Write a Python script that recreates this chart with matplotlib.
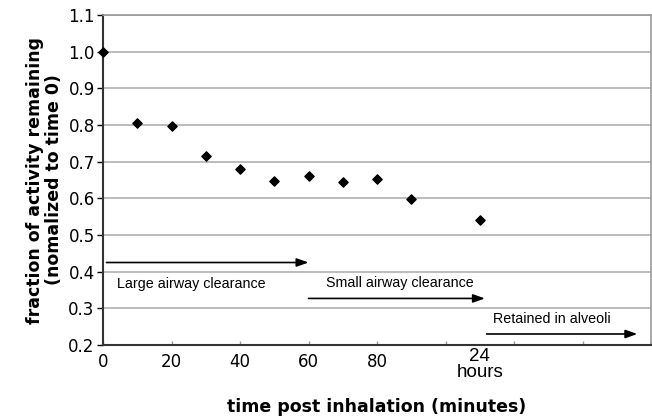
import matplotlib.pyplot as plt

# data
time_min = [0, 10, 20, 30, 40, 50, 60, 70, 80, 90, 110]
fraction = [1.00, 0.806, 0.797, 0.715, 0.681, 0.648, 0.661, 0.645, 0.654, 0.599, 0.541]

x_ticks = [0, 20, 40, 60, 80, 100, 120, 140, 160]
x_tick_labels = ["0", "20", "40", "60", "80", "", "", "", ""]
y_ticks = [0.2, 0.3, 0.4, 0.5, 0.6, 0.7, 0.8, 0.9, 1.0, 1.1]

phases = ["Large airway clearance", "Small airway clearance", "Retained in alveoli"]
phase_start = [1, 60, 112]
phase_end = [60, 111.5, 156]
phase_level = [0.425, 0.327, 0.23]
phase_text_x = [4, 65, 114]
phase_text_y = [0.366, 0.368, 0.271]

fig = plt.figure(figsize=(6.52, 4.17), dpi=100)
ax = fig.add_axes([103 / 652, 1 - 345 / 417, 548 / 652, 330 / 417])

ax.scatter(time_min, fraction, marker="D", s=22, color="black", zorder=3, clip_on=False)

ax.set_xlim(0, 160)
ax.set_ylim(0.2, 1.1)
ax.set_yticks(y_ticks)
ax.set_yticklabels([f"{v:.1f}" for v in y_ticks], fontsize=12)
ax.set_xticks(x_ticks)
ax.set_xticklabels(x_tick_labels, fontsize=12)
ax.text(110, 0.2 - 0.008, "24\nhours", ha="center", va="top", fontsize=13.5,
        family="Liberation Sans", linespacing=0.9)

ax.grid(axis="y", color="#b0b0b0", linewidth=1.2)
ax.set_axisbelow(True)
ax.tick_params(axis="y", direction="out", length=4, width=1, pad=2)
ax.tick_params(axis="x", direction="in", length=3, width=1, color="#999999", pad=6)
for side in ["left", "bottom"]:
    ax.spines[side].set_color("#333333")
    ax.spines[side].set_linewidth(1.5)
for side in ["top", "right"]:
    ax.spines[side].set_color("#999999")
    ax.spines[side].set_linewidth(1.2)

# clearance phase arrows
for name, x0, x1, lvl, tx, ty in zip(phases, phase_start, phase_end, phase_level,
                                    phase_text_x, phase_text_y):
    ax.annotate("", xy=(x1, lvl), xytext=(x0, lvl),
                arrowprops=dict(arrowstyle="-|>,head_length=0.7,head_width=0.25",
                                color="black", lw=1.2, shrinkA=0, shrinkB=0))
    ax.text(tx, ty, name, fontsize=10.3, family="Liberation Sans", va="center", ha="left")

ax.set_ylabel("fraction of activity remaining\n(nomalized to time 0)",
              fontsize=12.5, fontweight="bold", labelpad=4, linespacing=1.05)
ax.set_xlabel("time post inhalation (minutes)", fontsize=12.5, fontweight="bold", labelpad=19)

fig.savefig("out.png", dpi=100)
